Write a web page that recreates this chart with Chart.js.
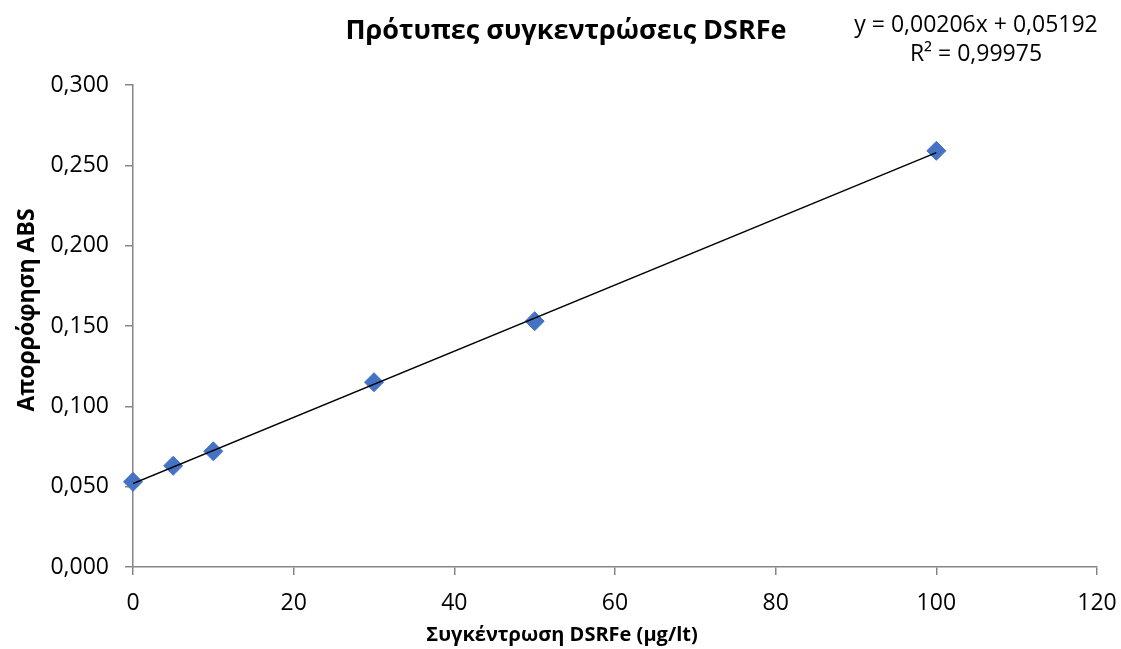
<!DOCTYPE html>
<html>
<head>
<meta charset="utf-8">
<title>Πρότυπες συγκεντρώσεις DSRFe</title>
<script src="https://cdn.jsdelivr.net/npm/chart.js@4.4.1/dist/chart.umd.min.js"></script>
<style>
  html, body { margin: 0; padding: 0; background: #fff; }
  #chart { display: block; }
</style>
</head>
<body>
<canvas id="chart" width="1121" height="649"></canvas>
<script>
// Δεδομένα (διαβασμένα από το γράφημα)
const concentrations = [0, 5, 10, 30, 50, 100];
const absorbance = [0.053, 0.063, 0.072, 0.115, 0.153, 0.259];

// Γραμμή τάσης: y = 0,00206x + 0,05192
const trendX = [0, 100];
const trendY = [0.0519, 0.2579];

const xTicks = [0, 20, 40, 60, 80, 100, 120];
const yTicks = [0, 0.05, 0.1, 0.15, 0.2, 0.25, 0.3];

const titleText = 'Πρότυπες συγκεντρώσεις DSRFe';
const xTitle = 'Συγκέντρωση DSRFe (μg/lt)';
const yTitle = 'Απορρόφηση ABS';
const equationLines = ['y = 0,00206x + 0,05192', 'R² = 0,99975'];

const FONT = "'Open Sans', 'Noto Sans', sans-serif";
const axisColor = '#868686';

const toPoints = (xs, ys) => xs.map((x, i) => ({ x: x, y: ys[i] }));

// Τίτλοι και εξίσωση σχεδιάζονται με το χέρι για σωστή θέση
const textPlugin = {
    id: 'texts',
    afterDraw(chart) {
        const ctx = chart.ctx;
        ctx.save();
        ctx.fillStyle = '#000';
        ctx.textAlign = 'center';
        ctx.textBaseline = 'middle';

        ctx.font = 'bold 27px ' + FONT;
        ctx.fillText(titleText, 566, 31);

        ctx.font = '23px ' + FONT;
        ctx.fillText(equationLines[0], 976, 25);
        ctx.fillText(equationLines[1], 976, 54);

        ctx.font = 'bold 20px ' + FONT;
        ctx.fillText(xTitle, 562, 635);

        ctx.font = 'bold 23px ' + FONT;
        ctx.translate(27, 310);
        ctx.rotate(-Math.PI / 2);
        ctx.fillText(yTitle, 0, 0);
        ctx.restore();
    }
};

const ctx = document.getElementById('chart').getContext('2d');
new Chart(ctx, {
    type: 'scatter',
    data: {
        datasets: [
            {
                label: 'Γραμμή τάσης',
                data: toPoints(trendX, trendY),
                showLine: true,
                borderColor: '#000',
                borderWidth: 1.5,
                pointRadius: 0,
                order: 0
            },
            {
                label: 'Απορρόφηση',
                data: toPoints(concentrations, absorbance),
                pointStyle: 'rectRot',
                pointRadius: 9.5,
                pointHoverRadius: 9.5,
                backgroundColor: '#4472C4',
                borderColor: '#4472C4',
                borderWidth: 1,
                clip: false,
                order: 1
            }
        ]
    },
    options: {
        responsive: false,
        animation: false,
        layout: { padding: { top: 85, right: 24, left: 0, bottom: 0 } },
        plugins: {
            legend: { display: false },
            title: { display: false },
            tooltip: { enabled: false }
        },
        scales: {
            x: {
                type: 'linear',
                min: 0,
                max: 120,
                afterBuildTicks: (scale) => { scale.ticks = xTicks.map(v => ({ value: v })); },
                afterFit: (scale) => {
                    scale.height = 82;
                    scale.paddingLeft = 0;
                    scale.paddingRight = 0;
                },
                grid: { drawOnChartArea: false, drawTicks: true, tickLength: 8, color: axisColor, lineWidth: 1.5 },
                border: { color: axisColor, width: 1.5 },
                ticks: { color: '#000', padding: 15, font: { family: FONT, size: 23 } }
            },
            y: {
                type: 'linear',
                min: 0,
                max: 0.3,
                afterBuildTicks: (scale) => { scale.ticks = yTicks.map(v => ({ value: v })); },
                afterFit: (scale) => {
                    scale.width = 133;
                    scale.paddingTop = 0;
                    scale.paddingBottom = 0;
                },
                grid: { drawOnChartArea: false, drawTicks: true, tickLength: 8, color: axisColor, lineWidth: 1.5 },
                border: { color: axisColor, width: 1.5 },
                ticks: {
                    color: '#000',
                    padding: 16,
                    font: { family: FONT, size: 23 },
                    callback: (v) => v.toFixed(3).replace('.', ',')
                }
            }
        }
    },
    plugins: [textPlugin]
});
</script>
</body>
</html>
